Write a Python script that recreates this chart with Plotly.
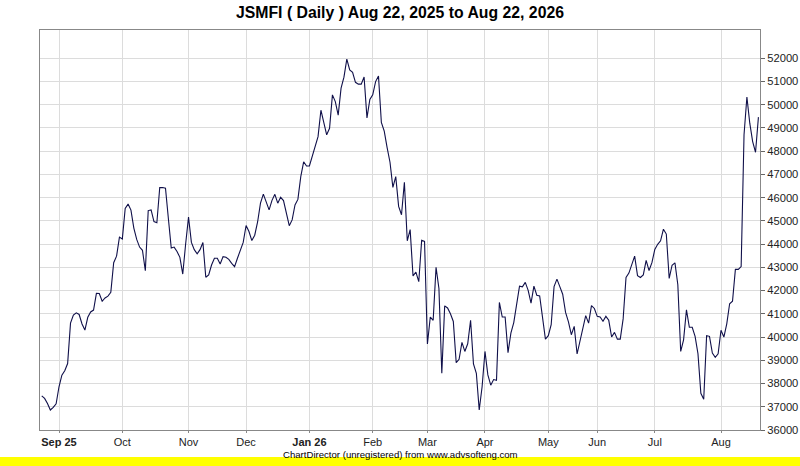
#!/usr/bin/env python
# -*- coding: utf-8 -*-

import pandas as pd
import plotly.graph_objects as go

TITLE = 'JSMFI ( Daily ) Aug 22, 2025 to Aug 22, 2026'
FOOTER = 'ChartDirector (unregistered) from www.advsofteng.com'

# trading calendar
start_date = '2025-08-22'
end_date = '2026-08-21'
holidays = ['2025-12-25', '2026-02-05', '2026-03-20', '2026-03-23', '2026-05-01',
            '2026-05-27', '2026-05-28', '2026-05-29', '2026-06-25', '2026-06-26',
            '2026-08-14']

# y axis labels
y_ticks = list(range(36000, 53000, 1000))

# daily close values
closes = [
    37470, 37360, 37140, 36860, 36970, 37130, 37860, 38360, 38550, 38860,
    40600, 40940, 41040, 40970, 40560, 40300, 40850, 41080, 41160, 41880,
    41870, 41540, 41680, 41760, 41920, 43200, 43480, 44300, 44220, 45530,
    45720, 45460, 44690, 44200, 43870, 43730, 42850, 45440, 45470, 44970,
    44920, 46430, 46430, 46400, 45100, 43830, 43870, 43680, 43430, 42710,
    44000, 45160, 44070, 43760, 43580, 43760, 44070, 42570, 42670, 43100,
    43390, 43390, 43140, 43460, 43430, 43340, 43170, 43030, 43390, 43780,
    44070, 44800, 44540, 44150, 44380, 44950, 45760, 46150, 45780, 45470,
    45880, 46140, 45760, 46010, 45870, 45330, 44790, 45040, 45680, 45920,
    46900, 47540, 47360, 47360, 47760, 48200, 48620, 49760, 49180, 48700,
    48980, 50420, 50130, 49550, 50710, 51180, 51960, 51490, 51390, 50960,
    50880, 50880, 51190, 49430, 50220, 50420, 50990, 51230, 49230, 48860,
    48150, 47520, 46440, 46900, 45620, 45260, 46660, 44140, 44620, 42630,
    42790, 42380, 44160, 44110, 39700, 40860, 40720, 43000, 42090, 38440,
    41340, 41250, 41000, 40670, 38900, 39040, 39770, 39380, 39710, 40720,
    38840, 38440, 36860, 37860, 39380, 38370, 37930, 38170, 38140, 41490,
    40860, 40860, 39330, 40170, 40620, 41400, 42190, 42160, 42350, 42010,
    41460, 42190, 41800, 41770, 40890, 39910, 40060, 40530, 42170, 42490,
    42170, 41840, 41060, 40650, 40100, 40460, 39270, 39800, 40320, 40920,
    40600, 41350, 41230, 40890, 40860, 40680, 40890, 40720, 40000, 40200,
    39910, 39910, 40780, 42560, 42750, 43100, 43480, 42640, 42560, 42670,
    43300, 42860, 43200, 43770, 43990, 44140, 44640, 44430, 42520, 43090,
    43190, 42250, 39380, 39880, 41170, 40420, 40420, 40030, 39280, 37580,
    37320, 40060, 40030, 39310, 39130, 39280, 40290, 40000, 40570, 41430,
    41540, 42910, 42910, 43030, 48700, 50330, 49200, 48410, 47950, 49460,
]


def trading_days():
    """영업일 목록 (휴장일 제외)"""
    days = pd.bdate_range(start_date, end_date)
    days = days[~days.isin(pd.to_datetime(holidays))]
    return days


def month_ticks(days):
    """매월 첫 거래일에 눈금"""
    s = pd.Series(days)
    firsts = s.groupby([s.dt.year, s.dt.month]).first().iloc[1:]
    vals, texts = [], []
    for i, d in enumerate(firsts):
        vals.append(d.strftime('%Y-%m-%d'))
        if i == 0 or d.month == 1:
            texts.append('<b>%s</b>' % d.strftime('%b %y'))
        else:
            texts.append(d.strftime('%b'))
    return vals, texts


def create_chart():
    days = trading_days()
    x = [d.strftime('%Y-%m-%d') for d in days[:len(closes)]]
    tickvals, ticktext = month_ticks(days)

    fig = go.Figure()
    fig.add_trace(go.Scatter(
        x=x,
        y=closes,
        mode='lines',
        line=dict(color='#10104a', width=1.1),
        hoverinfo='x+y'
    ))

    fig.update_layout(
        width=800,
        height=466,
        margin=dict(l=40, r=40, t=30, b=36),
        paper_bgcolor='white',
        plot_bgcolor='white',
        showlegend=False,
        font=dict(family='Arial, Liberation Sans, sans-serif', size=11, color='#222'),
        title=dict(text='<b>' + TITLE + '</b>', x=0.5, xanchor='center',
                   y=0.973, yanchor='middle',
                   font=dict(size=15.8, color='black'))
    )

    fig.update_xaxes(
        type='category',
        range=[-0.6, len(x) - 0.45],
        tickmode='array',
        tickvals=tickvals,
        ticktext=ticktext,
        showgrid=True,
        gridcolor='#dcdcdc',
        gridwidth=1,
        showline=True,
        linecolor='#888',
        linewidth=1,
        mirror=True,
        ticks='outside',
        ticklen=2,
        tickcolor='#888',
        tickangle=0,
        automargin=False,
        tickfont=dict(size=11, color='#222')
    )

    fig.update_yaxes(
        side='right',
        range=[36000, 53210],
        tickmode='array',
        tickvals=y_ticks,
        showgrid=True,
        gridcolor='#dcdcdc',
        gridwidth=1,
        showline=True,
        linecolor='#888',
        linewidth=1,
        mirror=True,
        ticks='outside',
        ticklen=4,
        tickcolor='#666',
        tickformat='d',
        automargin=False,
        tickfont=dict(size=11.2, color='#222'),
        zeroline=False
    )

    # 하단 노란색 띠
    fig.add_shape(type='rect', xref='paper', yref='paper',
                  x0=-0.06, x1=1.06, y0=-0.0675, y1=-0.095,
                  fillcolor='#ffff00', line=dict(width=0), layer='above')
    fig.add_annotation(text=FOOTER, xref='paper', yref='paper',
                       x=0.5, y=-0.0795, showarrow=False,
                       font=dict(size=9.6, color='black'))

    return fig


if __name__ == '__main__':
    fig = create_chart()
    # 페이지 기본 여백 제거
    fig.write_html('out.html', config={'displayModeBar': False},
                   post_script="document.body.style.margin='0';")
